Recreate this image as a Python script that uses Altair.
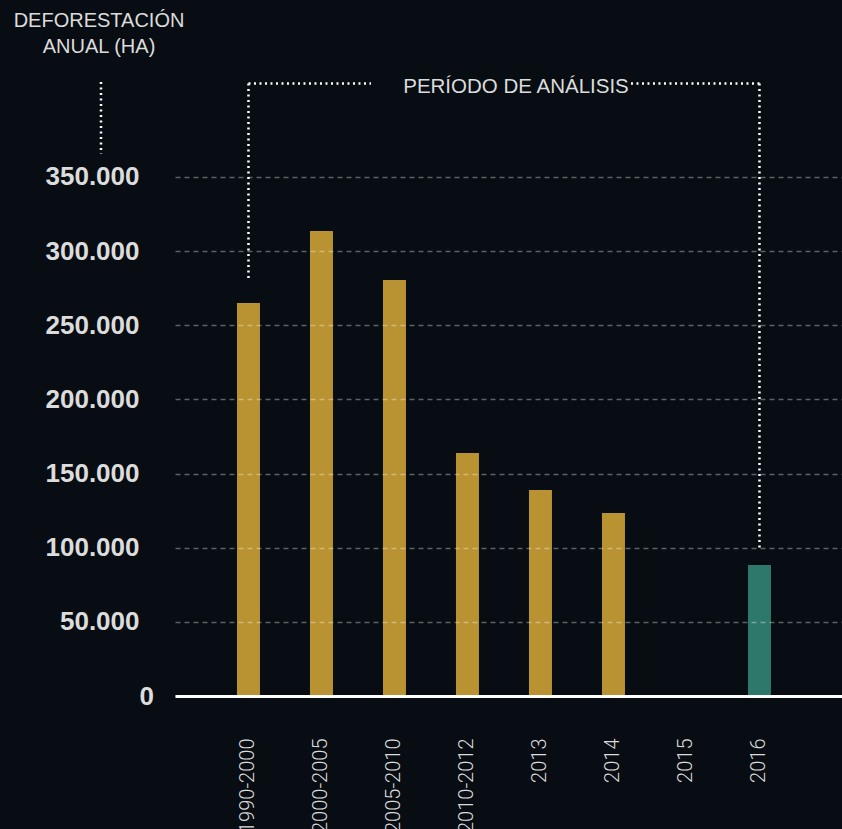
import altair as alt
import pandas as pd

# ---- data ----
categories = ["1990-2000", "2000-2005", "2005-2010", "2010-2012", "2013", "2014", "2015", "2016"]
values = [265000, 313600, 280500, 163900, 138900, 123400, 0, 88300]
groups = ["previo", "previo", "previo", "previo", "previo", "previo", "previo", "analisis"]
y_ticks = [0, 50000, 100000, 150000, 200000, 250000, 300000, 350000]

title_lines = ["DEFORESTACIÓN", "ANUAL (HA)"]
bracket_label = "PERÍODO DE ANÁLISIS"
bracket_top = 413000          # height of the bracket (ha, y-scale units)
bracket_left_end = 281000     # left leg end
bracket_right_end = 100000    # right leg end

BG = "#070d12"
GOLD = "#b99331"
TEAL = "#2e776b"
TXT = "#dcdcdc"

df = pd.DataFrame({"cat": categories, "val": values, "grp": groups})

x_scale = alt.Scale(domain=categories, paddingInner=0.685, paddingOuter=0.911, align=0.466)
y_scale = alt.Scale(domain=[0, 428900], nice=False)

bars = alt.Chart(df).mark_bar().encode(
    x=alt.X("cat:N", sort=categories, scale=x_scale,
            axis=alt.Axis(title=None, labelAngle=-90, labelPadding=42, ticks=False,
                          domain=True, domainColor="#ffffff", domainWidth=3,
                          labelColor=TXT, labelFont="Roboto", labelFontWeight=300,
                          labelFontSize=20, zindex=1)),
    y=alt.Y("val:Q", scale=y_scale,
            axis=alt.Axis(title=None, values=y_ticks, ticks=False, domain=False,
                          labelExpr="replace(format(datum.value, ','), ',', '.')",
                          labelFont="Liberation Sans", labelFontWeight="bold", labelFontSize=26,
                          labelColor=TXT, labelPadding=36,
                          labelAlign={"condition": {"test": "datum.value === 0", "value": "left"}, "value": "right"},
                          grid=True, gridColor="#ffffff", gridOpacity=0.35, gridWidth=1.5,
                          gridDash=[5, 4], zindex=1)),
    color=alt.Color("grp:N", scale=alt.Scale(domain=["previo", "analisis"], range=[GOLD, TEAL]), legend=None),
)

dot = dict(color="#ffffff", strokeDash=[2, 3.5], strokeWidth=2.5)

left_leg = alt.Chart(pd.DataFrame({"cat": [categories[0]], "y1": [bracket_top], "y2": [bracket_left_end]})).mark_rule(**dot).encode(
    x=alt.X("cat:N"), y=alt.Y("y1:Q"), y2="y2:Q")
right_leg = alt.Chart(pd.DataFrame({"cat": [categories[-1]], "y1": [bracket_top], "y2": [bracket_right_end]})).mark_rule(**dot).encode(
    x=alt.X("cat:N"), y=alt.Y("y1:Q"), y2="y2:Q")
top_left = alt.Chart(pd.DataFrame({"cat": [categories[0]], "y1": [bracket_top]})).mark_rule(**dot).encode(
    x=alt.X("cat:N"), x2=alt.value(196), y=alt.Y("y1:Q"))
top_right = alt.Chart(pd.DataFrame({"cat": [categories[-1]], "y1": [bracket_top]})).mark_rule(**dot).encode(
    x=alt.X("cat:N"), x2=alt.value(455), y=alt.Y("y1:Q"))
axis_mark = alt.Chart(pd.DataFrame({"y1": [414000], "y2": [365500]})).mark_rule(**dot).encode(
    x=alt.value(-74), y=alt.Y("y1:Q"), y2="y2:Q")

one = pd.DataFrame({"a": [0]})
bracket_text = alt.Chart(one).mark_text(
    text=bracket_label, font="Liberation Sans", fontSize=20.5, color=TXT, align="center", baseline="alphabetic"
).encode(x=alt.value(341), y=alt.value(33))
t1 = alt.Chart(one).mark_text(
    text=title_lines[0], font="Liberation Sans", fontSize=20, color=TXT, align="center", baseline="alphabetic"
).encode(x=alt.value(-76), y=alt.value(-33))
t2 = alt.Chart(one).mark_text(
    text=title_lines[1], font="Liberation Sans", fontSize=20, color=TXT, align="center", baseline="alphabetic"
).encode(x=alt.value(-76), y=alt.value(-7))

chart = alt.layer(bars, left_leg, right_leg, top_left, top_right, axis_mark, bracket_text, t1, t2).properties(
    width=667, height=636,
    padding={"left": 175, "top": 60, "right": 0, "bottom": 133},
    autosize=alt.AutoSizeParams(type="none"),
    background=BG,
).configure_view(stroke=None)

chart.save("out.html", embed_options={"renderer": "svg", "actions": False})
